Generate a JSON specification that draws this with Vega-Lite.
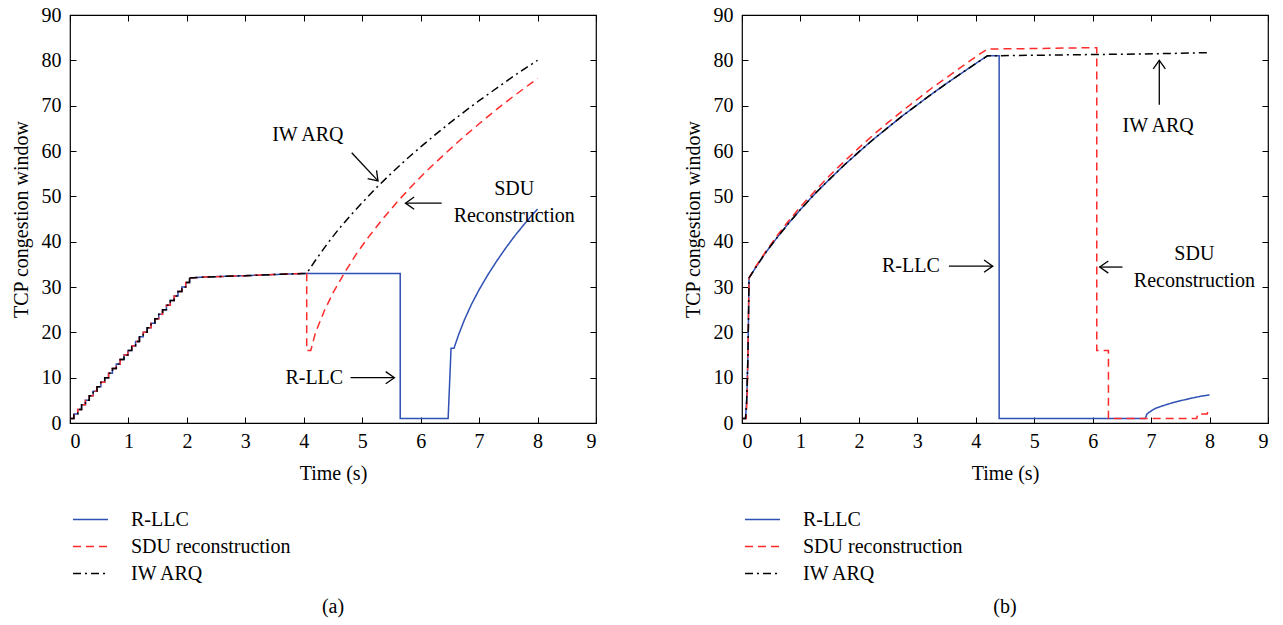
{
  "$schema": "https://vega.github.io/schema/vega-lite/v6.json",
  "background": "white",
  "padding": {"left": 10, "top": 4, "right": 5, "bottom": 5},
  "datasets": {
    "rampA": [
      {"t": 0, "v": 1}, {"t": 0.066, "v": 2}, {"t": 0.132, "v": 3}, {"t": 0.198, "v": 4},
      {"t": 0.264, "v": 5}, {"t": 0.33, "v": 6}, {"t": 0.396, "v": 7}, {"t": 0.462, "v": 8},
      {"t": 0.528, "v": 9}, {"t": 0.594, "v": 10}, {"t": 0.66, "v": 11}, {"t": 0.726, "v": 12},
      {"t": 0.792, "v": 13}, {"t": 0.858, "v": 14}, {"t": 0.924, "v": 15}, {"t": 0.99, "v": 16},
      {"t": 1.056, "v": 17}, {"t": 1.122, "v": 18}, {"t": 1.188, "v": 19}, {"t": 1.254, "v": 20},
      {"t": 1.32, "v": 21}, {"t": 1.386, "v": 22}, {"t": 1.452, "v": 23}, {"t": 1.518, "v": 24},
      {"t": 1.584, "v": 25}, {"t": 1.65, "v": 26}, {"t": 1.716, "v": 27}, {"t": 1.782, "v": 28},
      {"t": 1.848, "v": 29}, {"t": 1.914, "v": 30}, {"t": 1.98, "v": 31}, {"t": 2.046, "v": 32}
    ],
    "linesA": [
      {"s": "R-LLC", "t": 2.046, "v": 32}, {"s": "R-LLC", "t": 2.3, "v": 32.2}, {"s": "R-LLC", "t": 3, "v": 32.5},
      {"s": "R-LLC", "t": 3.5, "v": 32.75}, {"s": "R-LLC", "t": 4.05, "v": 33}, {"s": "R-LLC", "t": 5.65, "v": 33},
      {"s": "R-LLC", "t": 5.65, "v": 1}, {"s": "R-LLC", "t": 6.47, "v": 1}, {"s": "R-LLC", "t": 6.52, "v": 16.5},
      {"s": "R-LLC", "t": 6.57, "v": 16.5}, {"s": "R-LLC", "t": 6.65, "v": 19.5}, {"s": "R-LLC", "t": 6.75, "v": 22.8},
      {"s": "R-LLC", "t": 6.87, "v": 26.2}, {"s": "R-LLC", "t": 7.0, "v": 29.4}, {"s": "R-LLC", "t": 7.15, "v": 32.7},
      {"s": "R-LLC", "t": 7.3, "v": 35.7}, {"s": "R-LLC", "t": 7.45, "v": 38.5}, {"s": "R-LLC", "t": 7.6, "v": 41.1},
      {"s": "R-LLC", "t": 7.75, "v": 43.5}, {"s": "R-LLC", "t": 7.9, "v": 45.8}, {"s": "R-LLC", "t": 8.0, "v": 47.2},
      {"s": "SDU reconstruction", "t": 2.046, "v": 32}, {"s": "SDU reconstruction", "t": 2.3, "v": 32.2},
      {"s": "SDU reconstruction", "t": 3, "v": 32.5}, {"s": "SDU reconstruction", "t": 3.5, "v": 32.75},
      {"s": "SDU reconstruction", "t": 4.05, "v": 33}, {"s": "SDU reconstruction", "t": 4.05, "v": 16},
      {"s": "SDU reconstruction", "t": 4.12, "v": 16}, {"s": "SDU reconstruction", "t": 4.2, "v": 19.9},
      {"s": "SDU reconstruction", "t": 4.35, "v": 24.7}, {"s": "SDU reconstruction", "t": 4.5, "v": 28.7},
      {"s": "SDU reconstruction", "t": 4.7, "v": 33.2}, {"s": "SDU reconstruction", "t": 4.9, "v": 37.3},
      {"s": "SDU reconstruction", "t": 5.1, "v": 40.9}, {"s": "SDU reconstruction", "t": 5.35, "v": 45.0},
      {"s": "SDU reconstruction", "t": 5.6, "v": 48.8}, {"s": "SDU reconstruction", "t": 5.85, "v": 52.3},
      {"s": "SDU reconstruction", "t": 6.1, "v": 55.6}, {"s": "SDU reconstruction", "t": 6.4, "v": 59.2},
      {"s": "SDU reconstruction", "t": 6.7, "v": 62.7}, {"s": "SDU reconstruction", "t": 7.0, "v": 66.0},
      {"s": "SDU reconstruction", "t": 7.3, "v": 69.2}, {"s": "SDU reconstruction", "t": 7.6, "v": 72.2},
      {"s": "SDU reconstruction", "t": 8.0, "v": 76},
      {"s": "IW ARQ", "t": 2.046, "v": 32}, {"s": "IW ARQ", "t": 2.3, "v": 32.2}, {"s": "IW ARQ", "t": 3, "v": 32.5},
      {"s": "IW ARQ", "t": 3.5, "v": 32.75}, {"s": "IW ARQ", "t": 4.05, "v": 33}, {"s": "IW ARQ", "t": 4.2, "v": 35.9},
      {"s": "IW ARQ", "t": 4.4, "v": 39.5}, {"s": "IW ARQ", "t": 4.6, "v": 42.8}, {"s": "IW ARQ", "t": 4.8, "v": 45.8},
      {"s": "IW ARQ", "t": 5.0, "v": 48.6}, {"s": "IW ARQ", "t": 5.25, "v": 52.0}, {"s": "IW ARQ", "t": 5.5, "v": 55.1},
      {"s": "IW ARQ", "t": 5.75, "v": 58.1}, {"s": "IW ARQ", "t": 6.0, "v": 60.9}, {"s": "IW ARQ", "t": 6.25, "v": 63.6},
      {"s": "IW ARQ", "t": 6.5, "v": 66.2}, {"s": "IW ARQ", "t": 6.75, "v": 68.7}, {"s": "IW ARQ", "t": 7.0, "v": 71.1},
      {"s": "IW ARQ", "t": 7.25, "v": 73.4}, {"s": "IW ARQ", "t": 7.5, "v": 75.7}, {"s": "IW ARQ", "t": 7.75, "v": 77.9},
      {"s": "IW ARQ", "t": 8.0, "v": 80}
    ],
    "linesB": [
      {"s": "R-LLC", "t": 0, "v": 1}, {"s": "R-LLC", "t": 0.06, "v": 1}, {"s": "R-LLC", "t": 0.08, "v": 5},
      {"s": "R-LLC", "t": 0.1, "v": 14}, {"s": "R-LLC", "t": 0.11, "v": 22}, {"s": "R-LLC", "t": 0.12, "v": 32},
      {"s": "R-LLC", "t": 0.25, "v": 34.6}, {"s": "R-LLC", "t": 0.4, "v": 37.5}, {"s": "R-LLC", "t": 0.6, "v": 40.9},
      {"s": "R-LLC", "t": 0.8, "v": 44.1}, {"s": "R-LLC", "t": 1.0, "v": 47.1}, {"s": "R-LLC", "t": 1.25, "v": 50.6},
      {"s": "R-LLC", "t": 1.5, "v": 53.8}, {"s": "R-LLC", "t": 1.75, "v": 56.9}, {"s": "R-LLC", "t": 2.0, "v": 59.8},
      {"s": "R-LLC", "t": 2.25, "v": 62.6}, {"s": "R-LLC", "t": 2.5, "v": 65.2}, {"s": "R-LLC", "t": 2.75, "v": 67.8},
      {"s": "R-LLC", "t": 3.0, "v": 70.2}, {"s": "R-LLC", "t": 3.25, "v": 72.6}, {"s": "R-LLC", "t": 3.5, "v": 74.9},
      {"s": "R-LLC", "t": 3.75, "v": 77.1}, {"s": "R-LLC", "t": 4.0, "v": 79.3}, {"s": "R-LLC", "t": 4.2, "v": 81},
      {"s": "R-LLC", "t": 4.4, "v": 81}, {"s": "R-LLC", "t": 4.4, "v": 1}, {"s": "R-LLC", "t": 6.9, "v": 1},
      {"s": "R-LLC", "t": 6.93, "v": 2}, {"s": "R-LLC", "t": 6.97, "v": 2.4}, {"s": "R-LLC", "t": 7.07, "v": 3.2},
      {"s": "R-LLC", "t": 7.2, "v": 3.8}, {"s": "R-LLC", "t": 7.35, "v": 4.4}, {"s": "R-LLC", "t": 7.5, "v": 4.9},
      {"s": "R-LLC", "t": 7.7, "v": 5.5}, {"s": "R-LLC", "t": 7.85, "v": 5.9}, {"s": "R-LLC", "t": 8.0, "v": 6.2},
      {"s": "SDU reconstruction", "t": 0, "v": 1}, {"s": "SDU reconstruction", "t": 0.07, "v": 1},
      {"s": "SDU reconstruction", "t": 0.09, "v": 6}, {"s": "SDU reconstruction", "t": 0.1, "v": 14},
      {"s": "SDU reconstruction", "t": 0.11, "v": 23}, {"s": "SDU reconstruction", "t": 0.12, "v": 32},
      {"s": "SDU reconstruction", "t": 0.25, "v": 34.8}, {"s": "SDU reconstruction", "t": 0.4, "v": 37.7},
      {"s": "SDU reconstruction", "t": 0.6, "v": 41.3}, {"s": "SDU reconstruction", "t": 0.8, "v": 44.6},
      {"s": "SDU reconstruction", "t": 1.0, "v": 47.7}, {"s": "SDU reconstruction", "t": 1.25, "v": 51.2},
      {"s": "SDU reconstruction", "t": 1.5, "v": 54.6}, {"s": "SDU reconstruction", "t": 1.75, "v": 57.7},
      {"s": "SDU reconstruction", "t": 2.0, "v": 60.7}, {"s": "SDU reconstruction", "t": 2.25, "v": 63.6},
      {"s": "SDU reconstruction", "t": 2.5, "v": 66.3}, {"s": "SDU reconstruction", "t": 2.75, "v": 68.9},
      {"s": "SDU reconstruction", "t": 3.0, "v": 71.4}, {"s": "SDU reconstruction", "t": 3.25, "v": 73.9},
      {"s": "SDU reconstruction", "t": 3.5, "v": 76.2}, {"s": "SDU reconstruction", "t": 3.75, "v": 78.5},
      {"s": "SDU reconstruction", "t": 4.0, "v": 80.8}, {"s": "SDU reconstruction", "t": 4.2, "v": 82.5},
      {"s": "SDU reconstruction", "t": 5.0, "v": 82.6}, {"s": "SDU reconstruction", "t": 6.07, "v": 82.8},
      {"s": "SDU reconstruction", "t": 6.07, "v": 16}, {"s": "SDU reconstruction", "t": 6.27, "v": 16},
      {"s": "SDU reconstruction", "t": 6.27, "v": 1}, {"s": "SDU reconstruction", "t": 7.78, "v": 1},
      {"s": "SDU reconstruction", "t": 7.8, "v": 2}, {"s": "SDU reconstruction", "t": 7.96, "v": 2},
      {"s": "SDU reconstruction", "t": 7.98, "v": 3}, {"s": "SDU reconstruction", "t": 8.0, "v": 3.1},
      {"s": "IW ARQ", "t": 0, "v": 1}, {"s": "IW ARQ", "t": 0.06, "v": 1}, {"s": "IW ARQ", "t": 0.08, "v": 5},
      {"s": "IW ARQ", "t": 0.1, "v": 14}, {"s": "IW ARQ", "t": 0.11, "v": 22}, {"s": "IW ARQ", "t": 0.12, "v": 32},
      {"s": "IW ARQ", "t": 0.25, "v": 34.6}, {"s": "IW ARQ", "t": 0.4, "v": 37.5}, {"s": "IW ARQ", "t": 0.6, "v": 40.9},
      {"s": "IW ARQ", "t": 0.8, "v": 44.1}, {"s": "IW ARQ", "t": 1.0, "v": 47.1}, {"s": "IW ARQ", "t": 1.25, "v": 50.6},
      {"s": "IW ARQ", "t": 1.5, "v": 53.8}, {"s": "IW ARQ", "t": 1.75, "v": 56.9}, {"s": "IW ARQ", "t": 2.0, "v": 59.8},
      {"s": "IW ARQ", "t": 2.25, "v": 62.6}, {"s": "IW ARQ", "t": 2.5, "v": 65.2}, {"s": "IW ARQ", "t": 2.75, "v": 67.8},
      {"s": "IW ARQ", "t": 3.0, "v": 70.2}, {"s": "IW ARQ", "t": 3.25, "v": 72.6}, {"s": "IW ARQ", "t": 3.5, "v": 74.9},
      {"s": "IW ARQ", "t": 3.75, "v": 77.1}, {"s": "IW ARQ", "t": 4.0, "v": 79.3}, {"s": "IW ARQ", "t": 4.2, "v": 81},
      {"s": "IW ARQ", "t": 4.6, "v": 81.05}, {"s": "IW ARQ", "t": 5.5, "v": 81.2}, {"s": "IW ARQ", "t": 6.5, "v": 81.35},
      {"s": "IW ARQ", "t": 7.3, "v": 81.5}, {"s": "IW ARQ", "t": 8.0, "v": 81.7}
    ],
    "textA": [
      {"label": "IW ARQ", "t": 4.07, "v": 63.6},
      {"label": "SDU", "t": 7.6, "v": 51.7},
      {"label": "Reconstruction", "t": 7.6, "v": 45.7},
      {"label": "R-LLC", "t": 4.18, "v": 10}
    ],
    "arrowsA": [
      {"t": 4.82, "v": 59.6, "t2": 5.27, "v2": 53.4, "dir": "diag"},
      {"t": 6.36, "v": 48.5, "t2": 5.74, "v2": 48.5, "dir": "left"},
      {"t": 4.8, "v": 10, "t2": 5.55, "v2": 10, "dir": "right"}
    ],
    "textB": [
      {"label": "IW ARQ", "t": 7.12, "v": 65.6},
      {"label": "SDU", "t": 7.74, "v": 37.3},
      {"label": "Reconstruction", "t": 7.74, "v": 31.4},
      {"label": "R-LLC", "t": 2.89, "v": 34.6}
    ],
    "arrowsB": [
      {"t": 7.14, "v": 70.2, "t2": 7.14, "v2": 80.0, "dir": "up"},
      {"t": 6.51, "v": 34.4, "t2": 6.12, "v2": 34.4, "dir": "left"},
      {"t": 3.54, "v": 34.6, "t2": 4.29, "v2": 34.6, "dir": "right"}
    ]
  },
  "hconcat": [
    {
      "width": 526,
      "height": 408,
      "title": {"text": "(a)", "orient": "bottom", "offset": 10},
      "resolve": {"axis": {"x": "independent", "y": "independent"}},
      "encoding": {
        "x": {"field": "t", "type": "quantitative", "scale": {"domain": [0, 9], "nice": false}, "axis": null},
        "y": {"field": "v", "type": "quantitative", "scale": {"domain": [0, 90], "nice": false}, "axis": null}
      },
      "layer": [
        {
          "data": {"name": "rampA"},
          "mark": {"type": "line", "interpolate": "step-after", "strokeWidth": 1.5},
          "encoding": {
            "x": {"field": "t", "type": "quantitative", "scale": {"domain": [0, 9], "nice": false}, "axis": {"orient": "top", "labels": false, "title": null, "values": [0,1,2,3,4,5,6,7,8,9]}},
            "y": {"field": "v", "type": "quantitative", "scale": {"domain": [0, 90], "nice": false}, "axis": {"orient": "right", "labels": false, "title": null, "values": [0,10,20,30,40,50,60,70,80,90]}},
            "color": {"datum": "R-LLC"}, "strokeDash": {"datum": "R-LLC"}
          }
        },
        {
          "data": {"name": "rampA"},
          "mark": {"type": "line", "interpolate": "step-after", "strokeWidth": 1.5},
          "encoding": {"color": {"datum": "SDU reconstruction"}, "strokeDash": {"datum": "SDU reconstruction"}}
        },
        {
          "data": {"name": "rampA"},
          "mark": {"type": "line", "interpolate": "step-after", "strokeWidth": 1.5},
          "encoding": {"color": {"datum": "IW ARQ"}, "strokeDash": {"datum": "IW ARQ"}}
        },
        {
          "data": {"name": "linesA"},
          "mark": {"type": "line", "strokeWidth": 1.5},
          "encoding": {
            "x": {"field": "t", "type": "quantitative", "title": "Time (s)", "scale": {"domain": [0, 9], "nice": false}, "axis": {"orient": "bottom", "values": [0,1,2,3,4,5,6,7,8,9], "labelPadding": 14, "titlePadding": 12}},
            "y": {"field": "v", "type": "quantitative", "title": "TCP congestion window", "scale": {"domain": [0, 90], "nice": false}, "axis": {"orient": "left", "values": [0,10,20,30,40,50,60,70,80,90], "labelPadding": 15}},
            "color": {"field": "s", "type": "nominal", "sort": null, "scale": {"domain": ["R-LLC", "SDU reconstruction", "IW ARQ"], "range": ["#2f50b4", "#ff2a2a", "#000000"]}},
            "strokeDash": {"field": "s", "type": "nominal", "sort": null, "scale": {"domain": ["R-LLC", "SDU reconstruction", "IW ARQ"], "range": [[1, 0], [8, 5], [8, 4, 2, 4]]}}
          }
        },
        {
          "data": {"name": "textA"},
          "mark": {"type": "text", "fontSize": 20, "color": "black", "align": "center", "baseline": "middle"},
          "encoding": {"text": {"field": "label"}}
        },
        {
          "data": {"name": "arrowsA"},
          "mark": {"type": "rule", "color": "black", "strokeWidth": 1.3},
          "encoding": {"x2": {"field": "t2"}, "y2": {"field": "v2"}}
        },
        {
          "data": {"name": "arrowsA"},
          "transform": [{"filter": "datum.dir === 'right'"}],
          "mark": {"type": "point", "shape": "M-1,-0.7L0,0L-1,0.7", "filled": false, "stroke": "black", "strokeWidth": 1.3, "size": 300, "angle": 0, "opacity": 1},
          "encoding": {"x": {"field": "t2", "type": "quantitative", "axis": null}, "y": {"field": "v2", "type": "quantitative", "axis": null}}
        },
        {
          "data": {"name": "arrowsA"},
          "transform": [{"filter": "datum.dir === 'left'"}],
          "mark": {"type": "point", "shape": "M-1,-0.7L0,0L-1,0.7", "filled": false, "stroke": "black", "strokeWidth": 1.3, "size": 300, "angle": 180, "opacity": 1},
          "encoding": {"x": {"field": "t2", "type": "quantitative", "axis": null}, "y": {"field": "v2", "type": "quantitative", "axis": null}}
        },
        {
          "data": {"name": "arrowsA"},
          "transform": [{"filter": "datum.dir === 'diag'"}],
          "mark": {"type": "point", "shape": "M-1,-0.7L0,0L-1,0.7", "filled": false, "stroke": "black", "strokeWidth": 1.3, "size": 300, "angle": 47, "opacity": 1},
          "encoding": {"x": {"field": "t2", "type": "quantitative", "axis": null}, "y": {"field": "v2", "type": "quantitative", "axis": null}}
        }
      ]
    },
    {
      "width": 526,
      "height": 408,
      "title": {"text": "(b)", "orient": "bottom", "offset": 10},
      "resolve": {"axis": {"x": "independent", "y": "independent"}},
      "encoding": {
        "x": {"field": "t", "type": "quantitative", "scale": {"domain": [0, 9], "nice": false}, "axis": null},
        "y": {"field": "v", "type": "quantitative", "scale": {"domain": [0, 90], "nice": false}, "axis": null}
      },
      "layer": [
        {
          "data": {"name": "linesB"},
          "mark": {"type": "line", "strokeWidth": 1.5},
          "encoding": {
            "x": {"field": "t", "type": "quantitative", "title": "Time (s)", "scale": {"domain": [0, 9], "nice": false}, "axis": {"orient": "bottom", "values": [0,1,2,3,4,5,6,7,8,9], "labelPadding": 14, "titlePadding": 12}},
            "y": {"field": "v", "type": "quantitative", "title": "TCP congestion window", "scale": {"domain": [0, 90], "nice": false}, "axis": {"orient": "left", "values": [0,10,20,30,40,50,60,70,80,90], "labelPadding": 15}},
            "color": {"field": "s", "type": "nominal", "sort": null, "scale": {"domain": ["R-LLC", "SDU reconstruction", "IW ARQ"], "range": ["#2f50b4", "#ff2a2a", "#000000"]}},
            "strokeDash": {"field": "s", "type": "nominal", "sort": null, "scale": {"domain": ["R-LLC", "SDU reconstruction", "IW ARQ"], "range": [[1, 0], [8, 5], [8, 4, 2, 4]]}}
          }
        },
        {
          "data": {"name": "textB"},
          "mark": {"type": "text", "fontSize": 20, "color": "black", "align": "center", "baseline": "middle"},
          "encoding": {
            "x": {"field": "t", "type": "quantitative", "scale": {"domain": [0, 9], "nice": false}, "axis": {"orient": "top", "labels": false, "title": null, "values": [0,1,2,3,4,5,6,7,8,9]}},
            "y": {"field": "v", "type": "quantitative", "scale": {"domain": [0, 90], "nice": false}, "axis": {"orient": "right", "labels": false, "title": null, "values": [0,10,20,30,40,50,60,70,80,90]}},
            "text": {"field": "label"}
          }
        },
        {
          "data": {"name": "arrowsB"},
          "mark": {"type": "rule", "color": "black", "strokeWidth": 1.3},
          "encoding": {"x2": {"field": "t2"}, "y2": {"field": "v2"}}
        },
        {
          "data": {"name": "arrowsB"},
          "transform": [{"filter": "datum.dir === 'right'"}],
          "mark": {"type": "point", "shape": "M-1,-0.7L0,0L-1,0.7", "filled": false, "stroke": "black", "strokeWidth": 1.3, "size": 300, "angle": 0, "opacity": 1},
          "encoding": {"x": {"field": "t2", "type": "quantitative", "axis": null}, "y": {"field": "v2", "type": "quantitative", "axis": null}}
        },
        {
          "data": {"name": "arrowsB"},
          "transform": [{"filter": "datum.dir === 'left'"}],
          "mark": {"type": "point", "shape": "M-1,-0.7L0,0L-1,0.7", "filled": false, "stroke": "black", "strokeWidth": 1.3, "size": 300, "angle": 180, "opacity": 1},
          "encoding": {"x": {"field": "t2", "type": "quantitative", "axis": null}, "y": {"field": "v2", "type": "quantitative", "axis": null}}
        },
        {
          "data": {"name": "arrowsB"},
          "transform": [{"filter": "datum.dir === 'up'"}],
          "mark": {"type": "point", "shape": "M-1,-0.7L0,0L-1,0.7", "filled": false, "stroke": "black", "strokeWidth": 1.3, "size": 300, "angle": 270, "opacity": 1},
          "encoding": {"x": {"field": "t2", "type": "quantitative", "axis": null}, "y": {"field": "v2", "type": "quantitative", "axis": null}}
        }
      ]
    }
  ],
  "spacing": 84,
  "resolve": {"legend": {"color": "independent", "strokeDash": "independent"}},
  "config": {
    "font": "Times New Roman, Liberation Serif, DejaVu Serif, serif",
    "text": {"font": "Times New Roman, Liberation Serif, DejaVu Serif, serif"},
    "view": {"stroke": "black", "strokeWidth": 1.2},
    "axis": {
      "grid": false,
      "domain": false,
      "tickColor": "black",
      "tickSize": -6,
      "tickWidth": 1,
      "labelColor": "black",
      "labelFont": "Times New Roman, Liberation Serif, DejaVu Serif, serif",
      "labelFontSize": 20,
      "titleColor": "black",
      "titleFont": "Times New Roman, Liberation Serif, DejaVu Serif, serif",
      "titleFontSize": 20,
      "titleFontWeight": "normal",
      "titlePadding": 10
    },
    "legend": {
      "orient": "none",
      "legendX": 2,
      "legendY": 491,
      "title": null,
      "labelFont": "Times New Roman, Liberation Serif, DejaVu Serif, serif",
      "labelFontSize": 20,
      "labelColor": "black",
      "symbolType": "stroke",
      "symbolStrokeWidth": 1.5,
      "symbolSize": 1225,
      "labelOffset": 22,
      "clipHeight": 27,
      "rowPadding": 0
    },
    "title": {"font": "Times New Roman, Liberation Serif, DejaVu Serif, serif", "fontSize": 20, "fontWeight": "normal", "color": "black", "anchor": "middle", "frame": "group"}
  }
}
